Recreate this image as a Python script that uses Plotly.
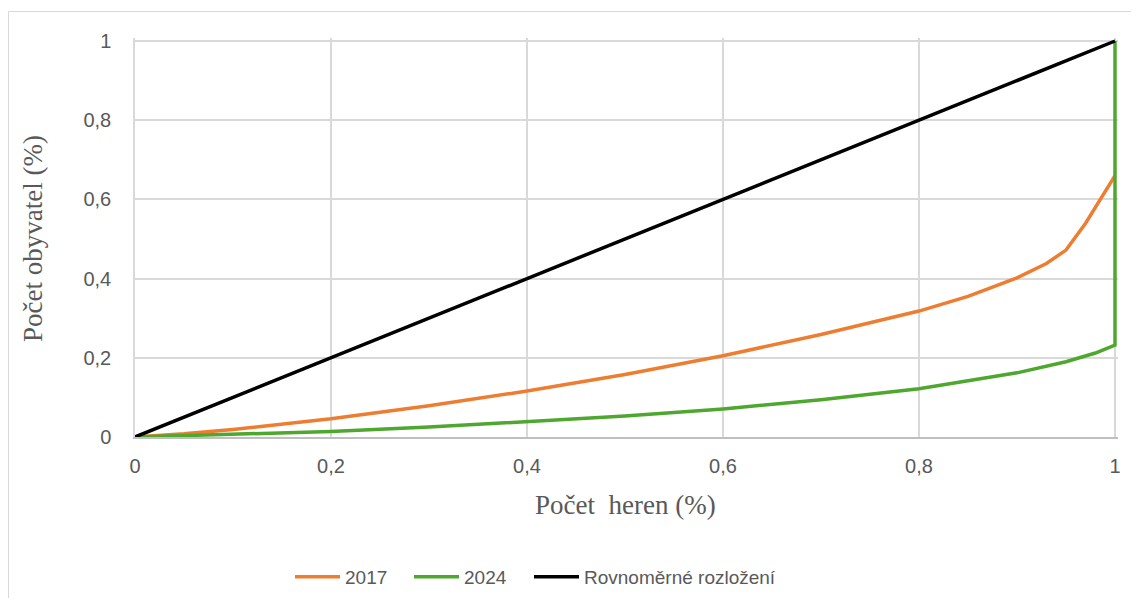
import plotly.graph_objects as go

# Data
x_2017 = [0, 0.05, 0.1, 0.15, 0.2, 0.3, 0.4, 0.5, 0.6, 0.7, 0.8, 0.85, 0.9, 0.93, 0.95, 0.97, 1.0]
y_2017 = [0, 0.008, 0.019, 0.032, 0.046, 0.079, 0.116, 0.158, 0.205, 0.259, 0.318, 0.355, 0.402, 0.438, 0.472, 0.54, 0.66]

x_2024 = [0, 0.1, 0.2, 0.3, 0.4, 0.5, 0.6, 0.7, 0.8, 0.9, 0.95, 0.98, 1.0, 1.0]
y_2024 = [0, 0.006, 0.014, 0.025, 0.038, 0.053, 0.071, 0.094, 0.122, 0.162, 0.19, 0.212, 0.232, 1.0]

x_uniform = [0, 1]
y_uniform = [0, 1]

series_names = ["2017", "2024", "Rovnoměrné rozložení"]
x_title = "Počet  heren (%)"
y_title = "Počet obyvatel (%)"
tick_vals = [0, 0.2, 0.4, 0.6, 0.8, 1]

# The page body has an 8px default margin; figure coordinates = page coordinates - 8
OFF = 8
PAD = 3  # small extension so lines at x=1 / y=1 are not half-clipped
X0, X1 = 135, 1115   # page px of x=0 and x=1
Y1, Y0 = 41, 437     # page px of y=1 and y=0
W, H = 1123, 590
L = X0 - OFF
R = W - (X1 + PAD - OFF)
T = Y1 - PAD - OFF
B = H - (Y0 - OFF)
pw, ph = W - L - R, H - T - B
x_max = 1 + PAD / (X1 - X0)
y_max = 1 + PAD / (Y0 - Y1)

def px_to_paper_x(px):
    return (px - OFF - L) / pw

def px_to_paper_y(py):
    return (H - B - (py - OFF)) / ph

fig = go.Figure()
fig.add_trace(go.Scatter(x=x_2017, y=y_2017, mode="lines", name=series_names[0], legend="legend",
                         line=dict(color="#ED7D31", width=3.5)))
fig.add_trace(go.Scatter(x=x_2024, y=y_2024, mode="lines", name=series_names[1], legend="legend2",
                         line=dict(color="#4EA72E", width=3.5)))
fig.add_trace(go.Scatter(x=x_uniform, y=y_uniform, mode="lines", name=series_names[2], legend="legend3",
                         line=dict(color="#000000", width=3.5)))

tick_font = dict(family="Liberation Sans, Arial, sans-serif", size=20, color="#595959")
title_font = dict(family="Liberation Serif, Times New Roman, serif", size=27, color="#595959")
legend_font = dict(family="Liberation Sans, Arial, sans-serif", size=19, color="#595959")

def legend_at(px):
    return dict(orientation="h", x=px_to_paper_x(px), xanchor="left",
                y=px_to_paper_y(577), yanchor="middle", font=legend_font,
                itemwidth=45, bgcolor="rgba(0,0,0,0)")

fig.update_layout(
    width=W, height=H,
    margin=dict(l=L, r=R, t=T, b=B, autoexpand=False),
    paper_bgcolor="white", plot_bgcolor="white",
    separators=", ",
    showlegend=True,
    legend=legend_at(290),
    legend2=legend_at(409),
    legend3=legend_at(529),
    xaxis=dict(range=[0, x_max], tickvals=tick_vals, showgrid=True, gridcolor="#d9d9d9", gridwidth=1.5,
               zeroline=False, showline=True, linecolor="#bfbfbf", linewidth=1.5,
               ticks="", tickfont=tick_font, ticklabelstandoff=10, fixedrange=True),
    yaxis=dict(range=[0, y_max], tickvals=tick_vals, showgrid=True, gridcolor="#d9d9d9", gridwidth=1.5,
               zeroline=False, showline=True, linecolor="#d9d9d9", linewidth=1.5,
               ticks="", tickfont=tick_font, ticklabelstandoff=18, fixedrange=True),
    annotations=[
        dict(text=x_title, xref="paper", yref="paper", x=px_to_paper_x((X0 + X1) / 2), y=px_to_paper_y(505),
             xanchor="center", yanchor="middle", showarrow=False, font=title_font),
        dict(text=y_title, xref="paper", yref="paper", x=px_to_paper_x(33), y=px_to_paper_y((Y0 + Y1) / 2),
             xanchor="center", yanchor="middle", showarrow=False, textangle=-90, font=title_font),
    ],
    shapes=[
        dict(type="rect", xref="paper", yref="paper",
             x0=px_to_paper_x(8.5), x1=px_to_paper_x(1160),
             y0=px_to_paper_y(640), y1=px_to_paper_y(11.5),
             line=dict(color="#d9d9d9", width=1), fillcolor="rgba(0,0,0,0)", layer="below"),
    ],
)

fig.write_html("out.html")
